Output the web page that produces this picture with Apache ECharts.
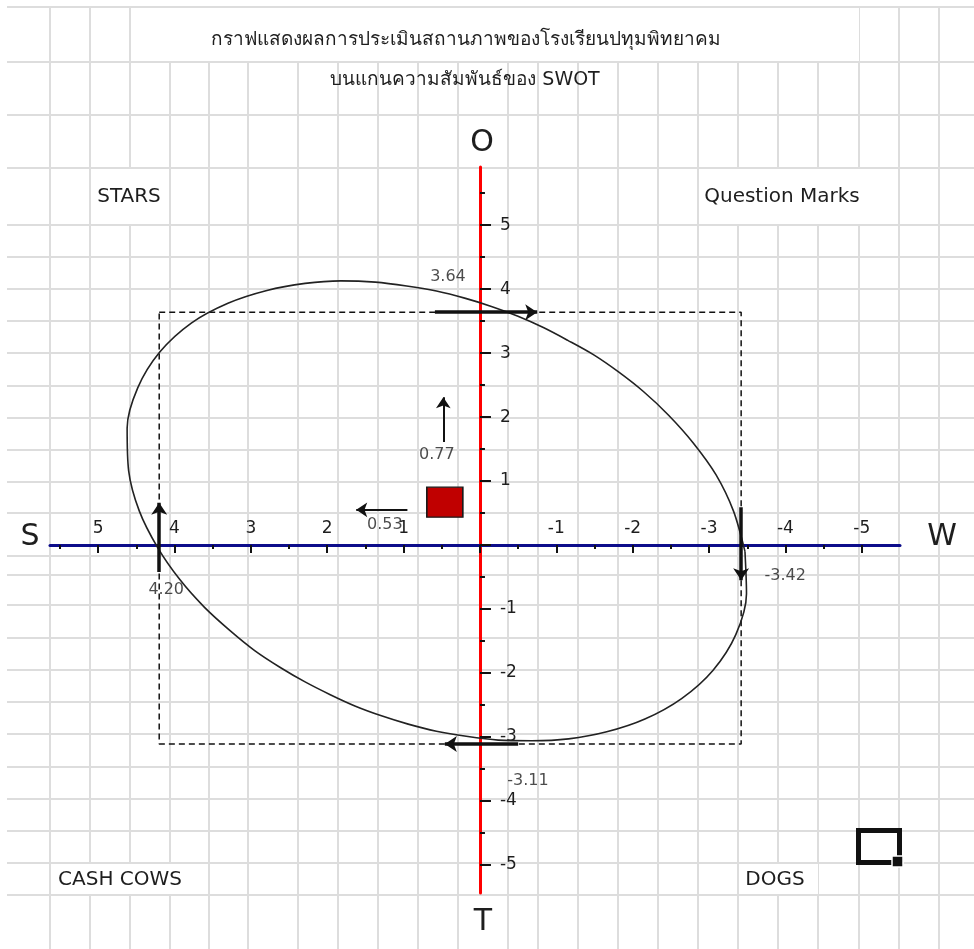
<!DOCTYPE html>
<html>
<head>
<meta charset="utf-8">
<script src="https://cdn.jsdelivr.net/npm/echarts@6/dist/echarts.min.js"></script>
<style>
  html,body{margin:0;padding:0;background:#fff}
  #chart{width:974px;height:949px}
</style>
</head>
<body>
<div id="chart"></div>
<script>
// ---- data ----
const titleLines = ['กราฟแสดงผลการประเมินสถานภาพของโรงเรียนปทุมพิทยาคม', 'บนแกนความสัมพันธ์ของ SWOT'];
const axisLetters = ['S', 'W', 'O', 'T'];
const quadrantNames = ['STARS', 'Question Marks', 'CASH COWS', 'DOGS'];

// S and O on the positive side, W and T on the negative side
const scoreS = 4.20, scoreW = -3.42, scoreO = 3.64, scoreT = -3.11;

// tick values on the two axes
const xTicks = [-5, -4, -3, -2, -1, 0, 1, 2, 3, 4, 5];
const xTickLabels = [-5, -4, -3, -2, -1, 1, 2, 3, 4, 5];
const yTicks = [-5, -4, -3, -2, -1, 0, 1, 2, 3, 4, 5];
const yTickLabels = [-5, -4, -3, -2, -1, 1, 2, 3, 4, 5];

// result box and its two hints
const netPoint = [0.46, 0.67];
const hintTexts = ['0.77', '0.53'];
const hintStart = [[0.48, 1.61], [0.95, 0.55]];
const hintEnd = [[0.48, 2.31], [1.62, 0.55]];

// arrows on the four scores
const arrowStart = [[4.20, -0.42], [-3.42, 0.59], [0.59, 3.64], [-0.50, -3.11]];
const arrowEnd = [[4.20, 0.66], [-3.42, -0.55], [-0.75, 3.64], [0.46, -3.11]];

// the ellipse, traced round from its right end
const ellipseX = [-3.47, -3.49, -3.35, -3.05, -2.64, -2.16, -1.66, -1.16, -0.68, -0.24, 0.18, 0.57, 0.94, 1.29, 1.63, 1.96, 2.29, 2.62, 2.95, 3.28, 3.61, 3.93, 4.22,
  4.46, 4.60, 4.62, 4.48, 4.19, 3.78, 3.30, 2.79, 2.29, 1.82, 1.37, 0.96, 0.57, 0.20, -0.15, -0.49, -0.83, -1.15, -1.48, -1.81, -2.14, -2.47, -2.79, -3.09, -3.32, -3.47];
const ellipseY = [-0.10, -0.76, -1.40, -1.96, -2.40, -2.72, -2.92, -3.03, -3.06, -3.05, -2.99, -2.91, -2.80, -2.67, -2.52, -2.34, -2.14, -1.91, -1.65, -1.33, -0.97, -0.54, -0.04,
  0.53, 1.16, 1.83, 2.46, 3.02, 3.47, 3.78, 3.98, 4.09, 4.13, 4.11, 4.05, 3.97, 3.86, 3.73, 3.58, 3.40, 3.20, 2.98, 2.71, 2.40, 2.03, 1.60, 1.10, 0.53, -0.10];

// axis extents
const xMin = -5.50, xMax = 5.63, yMin = -5.44, yMax = 5.91;

// background paper grid (pixel positions)
const paperCols = [50, 90, 130, 170, 209, 248, 298, 338, 378, 418, 458, 508, 538, 578, 618, 658, 698, 738, 778, 818, 859, 899, 939];
const paperRows = [7, 62, 115, 168, 225, 257, 289, 321, 353, 386, 418, 450, 482, 513, 556, 575, 605, 638, 670, 702, 734, 767, 799, 831, 863, 895];

const FONT = "'DejaVu Sans', 'Noto Sans', sans-serif";
const TEXT = '#1e1e1e';

const chart = echarts.init(document.getElementById('chart'));

const scoreLabels = [
  {value: [0, scoreO], text: scoreO.toFixed(2)},
  {value: [scoreS, 0], text: scoreS.toFixed(2)},
  {value: [scoreW, 0], text: scoreW.toFixed(2)},
  {value: [0, scoreT], text: scoreT.toFixed(2)},
  {value: netPoint, text: hintTexts[0]},
  {value: netPoint, text: hintTexts[1]}
];
const labelOffsets = [[-32, -35], [7, 45], [44, 31], [48, 37], [-8, -47], [-60, 23]];

const mask = (x, y, w, h) => ({type: 'rect', z: 1, shape: {x, y, width: w, height: h}, style: {fill: '#fff'}});
const txt = (text, x, y, size, extra) => ({
  type: 'text', z: 10, x, y,
  style: Object.assign({text, font: `${size}px ${FONT}`, fill: TEXT, align: 'center', verticalAlign: 'middle'}, extra || {})
});

// grid 0: the SWOT plane, grid 1: the squared paper behind it
const plane = {left: 50, right: 74, top: 167, bottom: 56};
const zeroX = 50 + (974 - 50 - 74) * xMax / (xMax - xMin);
const zeroY = 167 + (949 - 167 - 56) * yMax / (yMax - yMin);

chart.setOption({
  animation: false,
  backgroundColor: '#fff',
  grid: [plane, {left: 7, right: 0, top: 7, bottom: 0}],
  xAxis: [
    {
      gridIndex: 0, type: 'value', inverse: true, min: xMin, max: xMax, z: 3,
      minInterval: 1, maxInterval: 1,
      position: 'bottom', offset: -(949 - 56 - zeroY),
      axisLine: {onZero: false, lineStyle: {color: '#0d0d8a', width: 3}},
      axisTick: {show: true, inside: false, length: 8, customValues: xTicks, lineStyle: {color: '#111', width: 2}},
      minorTick: {show: true, splitNumber: 2, length: 4, lineStyle: {color: '#111', width: 2}},
      axisLabel: {inside: true, margin: 8, color: TEXT, fontFamily: FONT, fontSize: 17, customValues: xTickLabels},
      splitLine: {show: false}
    },
    {
      gridIndex: 1, type: 'value', min: 7, max: 974, z: 0,
      axisLine: {show: false}, axisLabel: {show: false},
      axisTick: {show: false, customValues: paperCols},
      splitLine: {show: true, lineStyle: {color: '#dddddd', width: 2}}
    }
  ],
  yAxis: [
    {
      gridIndex: 0, type: 'value', min: yMin, max: yMax, z: 3,
      minInterval: 1, maxInterval: 1,
      position: 'left', offset: -(zeroX - 50),
      axisLine: {onZero: false, lineStyle: {color: '#ff0000', width: 3}},
      axisTick: {show: true, inside: true, length: 11, customValues: yTicks, lineStyle: {color: '#111', width: 2}},
      minorTick: {show: true, splitNumber: 2, length: 5, lineStyle: {color: '#111', width: 2}},
      axisLabel: {inside: true, margin: 20, color: TEXT, fontFamily: FONT, fontSize: 17, customValues: yTickLabels},
      splitLine: {show: false}
    },
    {
      gridIndex: 1, type: 'value', inverse: true, min: 7, max: 949, z: 0,
      axisLine: {show: false}, axisLabel: {show: false},
      axisTick: {show: false, customValues: paperRows},
      splitLine: {show: true, lineStyle: {color: '#dddddd', width: 2}}
    }
  ],
  series: [
    {
      name: 'box', type: 'line', z: 4, showSymbol: false, symbol: 'none', silent: true,
      lineStyle: {color: '#111', width: 1.5, type: [6, 4]},
      data: [[scoreS, scoreO], [scoreW, scoreO], [scoreW, scoreT], [scoreS, scoreT], [scoreS, scoreO]]
    },
    {
      name: 'ellipse', type: 'line', z: 5, smooth: 0.3, showSymbol: false, symbol: 'none', silent: true,
      lineStyle: {color: '#222', width: 1.6},
      data: ellipseX.map((x, i) => [x, ellipseY[i]])
    },
    {
      name: 'score arrows', type: 'lines', coordinateSystem: 'cartesian2d', z: 6, silent: true,
      symbol: ['none', 'arrow'], symbolSize: 12,
      lineStyle: {color: '#111', width: 3.5, opacity: 1, curveness: 0},
      data: arrowStart.map((p, i) => ({coords: [p, arrowEnd[i]]}))
    },
    {
      name: 'hint arrows', type: 'lines', coordinateSystem: 'cartesian2d', z: 6, silent: true,
      symbol: ['none', 'arrow'], symbolSize: 11,
      lineStyle: {color: '#111', width: 2, opacity: 1, curveness: 0},
      data: hintStart.map((p, i) => ({coords: [p, hintEnd[i]]}))
    },
    {
      name: 'result', type: 'scatter', z: 7, silent: true,
      symbol: 'rect', symbolSize: [36, 30],
      itemStyle: {color: '#c00000', borderColor: '#1a1a1a', borderWidth: 1.5, opacity: 1},
      data: [netPoint]
    },
    {
      name: 'labels', type: 'scatter', z: 8, silent: true,
      symbolSize: 1, itemStyle: {color: 'rgba(0,0,0,0)'},
      data: scoreLabels.map((d, i) => ({
        value: d.value,
        label: {show: true, position: 'inside', offset: labelOffsets[i], formatter: d.text,
          color: TEXT, fontFamily: FONT, fontSize: 16}
      }))
    }
  ],
  graphic: [
    mask(131, 8, 728, 53),
    mask(91, 169, 78, 55),
    mask(699, 169, 199, 55),
    mask(51, 864, 157, 30),
    mask(739, 864, 79, 30),
    txt(titleLines[0], 466, 40, 19),
    txt(titleLines[1], 465, 80, 19),
    txt(axisLetters[0], 30, 537, 30),
    txt(axisLetters[1], 942, 537, 30),
    txt(axisLetters[2], 482, 143, 30),
    txt(axisLetters[3], 483, 922, 30),
    txt(quadrantNames[0], 129, 197, 20),
    txt(quadrantNames[1], 782, 197, 20),
    txt(quadrantNames[2], 120, 880, 20),
    txt(quadrantNames[3], 775, 880, 20),
    {type: 'rect', z: 10, shape: {x: 858.5, y: 830.5, width: 41, height: 32}, style: {fill: 'none', stroke: '#111', lineWidth: 5}},
    {type: 'rect', z: 11, shape: {x: 892, y: 856, width: 11, height: 11}, style: {fill: '#111', stroke: '#fff', lineWidth: 1.5}}
  ]
});
</script>
</body>
</html>
